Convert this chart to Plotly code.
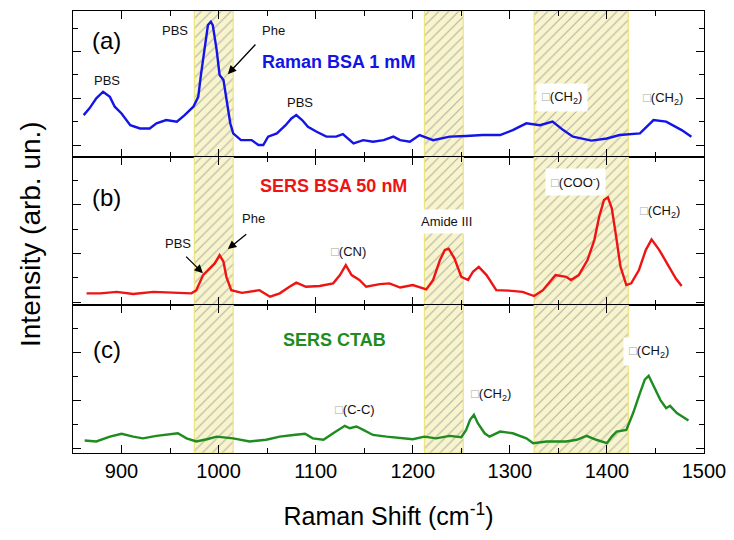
import plotly.graph_objects as go
from plotly.subplots import make_subplots

# ---------------- data ----------------
x_axis_range = [850, 1500]

# highlighted bands (cm-1)
band_lo = [975, 1212, 1325]
band_hi = [1015, 1252, 1422]

# (a) Raman BSA 1 mM
raman_x = [861, 867, 874, 881, 888, 893, 900, 909, 919, 929, 936, 946, 957, 965, 974, 979, 982, 986, 989, 992,
           994, 998, 1001, 1005, 1008, 1012, 1015, 1023, 1034, 1041, 1046, 1051, 1060, 1069, 1075, 1080, 1086,
           1092, 1101, 1111, 1121, 1128, 1139, 1149, 1159, 1170, 1180, 1187, 1197, 1207, 1221, 1238, 1255, 1272,
           1290, 1303, 1317, 1331, 1344, 1355, 1365, 1384, 1400, 1413, 1434, 1441, 1448, 1461, 1468, 1477, 1487]
raman_y = [1.28, 1.57, 2.0, 2.28, 2.06, 1.64, 1.35, 0.85, 0.71, 0.71, 0.93, 1.07, 1.0, 1.28, 1.64, 2.06, 3.06,
           4.2, 5.13, 5.27, 5.13, 4.06, 2.99, 2.78, 1.92, 0.93, 0.5, 0.21, 0.21, 0.0, 0.0, 0.36, 0.5, 0.85, 1.14,
           1.28, 1.07, 0.78, 0.57, 0.36, 0.36, 0.47, 0.07, 0.21, 0.14, 0.21, 0.36, 0.21, 0.14, 0.43, 0.21, 0.36,
           0.39, 0.43, 0.43, 0.64, 0.93, 0.85, 1.0, 0.64, 0.36, 0.19, 0.28, 0.43, 0.5, 0.78, 1.07, 1.0, 0.85,
           0.64, 0.36]

# (b) SERS BSA 50 nM
sers_bsa_x = [864, 878, 895, 912, 933, 953, 972, 977, 984, 991, 996, 1001, 1005, 1008, 1013, 1024, 1042, 1053,
              1063, 1073, 1080, 1090, 1104, 1118, 1125, 1131, 1137, 1145, 1152, 1166, 1176, 1187, 1200, 1214,
              1221, 1228, 1233, 1237, 1243, 1250, 1257, 1262, 1268, 1276, 1286, 1299, 1313, 1325, 1334, 1347,
              1358, 1363, 1371, 1380, 1387, 1392, 1397, 1401, 1405, 1409, 1414, 1420, 1425, 1433, 1440, 1446,
              1454, 1464, 1471, 1477]
sers_bsa_y = [0.36, 0.36, 0.42, 0.33, 0.42, 0.38, 0.36, 0.49, 1.11, 1.39, 1.59, 1.93, 1.66, 1.04, 0.49, 0.38,
              0.49, 0.22, 0.36, 0.63, 0.8, 0.63, 0.66, 0.77, 1.11, 1.52, 1.11, 0.91, 0.63, 0.74, 0.77, 0.6, 0.7,
              0.52, 0.91, 1.73, 2.14, 2.2, 1.79, 1.04, 0.91, 1.25, 1.45, 1.11, 0.49, 0.47, 0.42, 0.25, 0.49, 1.11,
              1.04, 0.91, 1.11, 1.73, 2.55, 3.51, 4.2, 4.31, 3.86, 2.83, 1.45, 0.70, 0.77, 1.32, 2.14, 2.58, 2.14,
              1.45, 0.97, 0.66]

# (c) SERS CTAB
ctab_x = [862, 874, 888, 900, 912, 922, 936, 950, 958, 967, 977, 988, 998, 1015, 1032, 1049, 1063, 1077, 1089,
          1097, 1108, 1118, 1130, 1135, 1142, 1149, 1159, 1173, 1186, 1200, 1212, 1224, 1238, 1250, 1255, 1259,
          1263, 1267, 1274, 1279, 1290, 1303, 1317, 1324, 1338, 1358, 1369, 1379, 1389, 1400, 1405, 1410, 1420,
          1427, 1434, 1439, 1443, 1448, 1455, 1461, 1465, 1472, 1484]
ctab_y = [0.35, 0.31, 0.51, 0.63, 0.51, 0.44, 0.54, 0.63, 0.65, 0.44, 0.31, 0.40, 0.51, 0.44, 0.31, 0.38, 0.51,
          0.58, 0.63, 0.44, 0.38, 0.65, 0.96, 0.86, 0.93, 0.79, 0.58, 0.51, 0.47, 0.40, 0.51, 0.44, 0.54, 0.49,
          0.79, 1.21, 1.42, 1.07, 0.65, 0.51, 0.72, 0.65, 0.44, 0.24, 0.31, 0.31, 0.38, 0.54, 0.38, 0.24, 0.51,
          0.72, 0.79, 1.49, 2.32, 2.88, 3.04, 2.6, 2.04, 1.69, 1.79, 1.49, 1.18]

series = [
    ("Raman BSA 1 mM", raman_x, raman_y, "#1414e6"),
    ("SERS BSA 50 nM", sers_bsa_x, sers_bsa_y, "#ee1414"),
    ("SERS CTAB", ctab_x, ctab_y, "#1e8c1e"),
]

# ---------------- figure ----------------
FONT = "Arial, Liberation Sans, Helvetica, sans-serif"
OFF = 8                      # default page margin of the html body
W, H = 734 - OFF, 540 - OFF
ML, MR, MT, MB = 73 - OFF, 30, 11 - OFF, 87
plot_h = H - MT - MB
panel_px = [(11, 157), (157, 305), (305, 453)]   # screen pixel rows of the panels
y_ranges = [[-0.51, 5.73], [-0.12, 5.97], [-0.17, 5.98]]

fig = make_subplots(rows=3, cols=1, shared_xaxes=True, vertical_spacing=0)

band_c = [(a + b) / 2 for a, b in zip(band_lo, band_hi)]
band_w = [b - a for a, b in zip(band_lo, band_hi)]

for i, (name, xs, ys, col) in enumerate(series):
    r = i + 1
    ymin, ymax = y_ranges[i]
    fig.add_trace(go.Bar(
        x=band_c, y=[ymax - ymin] * len(band_c), base=[ymin] * len(band_c), width=band_w,
        marker=dict(color="#f8f4cc",
                    line=dict(color="#eee47e", width=1.2),
                    pattern=dict(shape="/", bgcolor="#f8f4cc", fgcolor="#b3b3aa",
                                 fgopacity=1, size=7, solidity=0.16)),
        showlegend=False, hoverinfo="skip"), row=r, col=1)
    fig.add_trace(go.Scatter(x=xs, y=ys, mode="lines", name=name,
                             line=dict(color=col, width=2.4), showlegend=False), row=r, col=1)

    top, bot = panel_px[i]
    top -= OFF
    bot -= OFF
    dom = [(H - MB - bot) / plot_h, (H - MB - top) / plot_h]
    dom = [max(0.0, min(1.0, d)) for d in dom]
    ax_common = dict(showline=True, linecolor="black", linewidth=1.3, mirror="allticks",
                     ticks="inside", ticklen=8, tickwidth=1.3, tickcolor="black",
                     showgrid=False, zeroline=False)
    fig.update_yaxes(range=[ymin, ymax], domain=dom, tick0=0, dtick=2, showticklabels=False,
                     minor=dict(ticks="inside", dtick=1, tick0=0, ticklen=5, tickcolor="black", tickwidth=1.2),
                     **ax_common, row=r, col=1)
    fig.update_xaxes(range=x_axis_range, tick0=900, dtick=100,
                     minor=dict(ticks="inside", dtick=50, tick0=850, ticklen=5, tickcolor="black", tickwidth=1.2),
                     tickfont=dict(size=20, color="black", family=FONT),
                     **ax_common, row=r, col=1)

fig.update_xaxes(title=dict(text="Raman Shift (cm<sup>-1</sup>)", font=dict(size=25, color="black", family=FONT),
                            standoff=26), row=3, col=1)

BOX = '<span style="color:#a8a8a8;font-size:13px">□</span>'
ann = []
def lab(text, x, y, ref, size=13, color="#111", bg=None, pad=4):
    d = dict(text=text, x=x, y=y, xref="x" + ref, yref="y" + ref, showarrow=False,
             font=dict(size=size, color=color, family=FONT), xanchor="center", yanchor="middle")
    if bg:
        d["bgcolor"] = bg
        d["borderpad"] = pad
    ann.append(d)

def arrow(xh, yh, xt, yt, ref):
    ann.append(dict(text="", x=xh, y=yh, ax=xt, ay=yt, xref="x" + ref, yref="y" + ref,
                    axref="x" + ref, ayref="y" + ref, showarrow=True, arrowhead=2,
                    arrowsize=1.3, arrowwidth=1.3, arrowcolor="black"))

# panel (a)
lab("(a)", 885, 4.49, "", size=24, color="black")
lab("PBS", 885, 2.74, "")
lab("PBS", 955, 4.91, "")
lab("Phe", 1057, 4.91, "")
arrow(1009.5, 3.03, 1039.4, 4.36, "")
lab("<b>Raman BSA 1 mM</b>", 1123, 3.55, "", size=18, color="#1414e6")
lab("PBS", 1083.6, 1.84, "")
lab(BOX + "(CH<sub>2</sub>)", 1354, 2.05, "", bg="white", pad=5)
lab(BOX + "(CH<sub>2</sub>)", 1458, 2.0, "")

# panel (b)
lab("(b)", 885, 4.32, "2", size=24, color="black")
lab("<b>SERS BSA 50 nM</b>", 1118.6, 4.77, "2", size=18, color="#ee1414")
lab("Phe", 1036, 3.42, "2")
arrow(1009.5, 2.18, 1030, 2.84, "2")
lab("PBS", 958, 2.43, "2")
arrow(983.8, 1.19, 965, 1.93, "2")
lab(BOX + "(CN)", 1134, 2.10, "2")
lab("Amide III", 1235, 3.33, "2", bg="white", pad=4)
lab(BOX + "(COO<sup>-</sup>)", 1367.6, 4.94, "2", bg="white", pad=5)
lab(BOX + "(CH<sub>2</sub>)", 1455, 3.74, "2")

# panel (c)
lab("(c)", 885, 4.125, "3", size=24, color="black")
lab("<b>SERS CTAB</b>", 1119.6, 4.54, "3", size=18, color="#1e8c1e")
lab(BOX + "(C-C)", 1140, 1.625, "3")
lab(BOX + "(CH<sub>2</sub>)", 1281, 2.25, "3")
lab(BOX + "(CH<sub>2</sub>)", 1443.8, 4.04, "3", bg="white", pad=5)

# shared y title
ann.append(dict(text="Intensity (arb. un.)", x=(30 - 73) / (W - ML - MR), y=(453 - 234) / plot_h,
                xref="paper", yref="paper", showarrow=False, textangle=-90,
                font=dict(size=28, color="black", family=FONT), xanchor="center", yanchor="middle"))

fig.update_layout(
    width=W, height=H, margin=dict(l=ML, r=MR, t=MT, b=MB),
    paper_bgcolor="white", plot_bgcolor="white",
    barmode="overlay", annotations=ann,
    font=dict(family=FONT, color="black"),
)

fig.write_html("out.html")
